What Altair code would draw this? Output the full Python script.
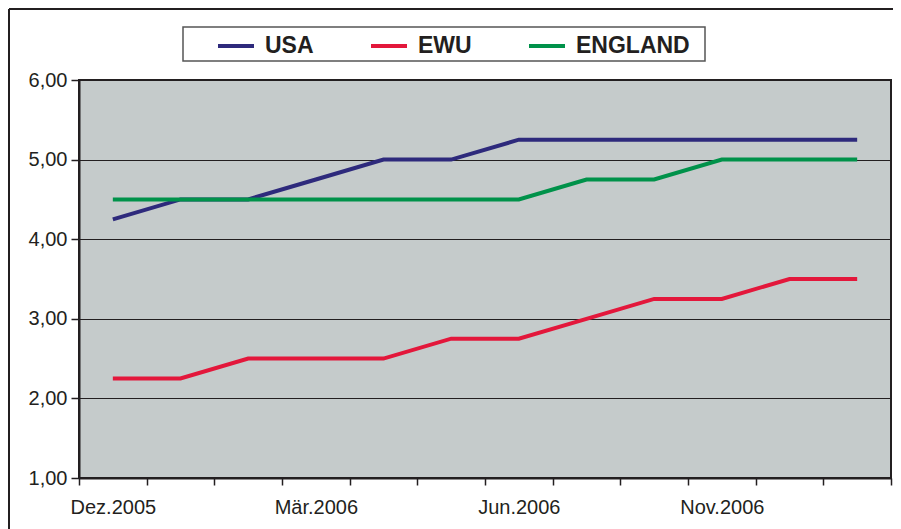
import altair as alt
import pandas as pd

# x positions (12 periods) and the labels shown under them
periods = list(range(12))
tick_labels = ["Dez.2005", "", "", "Mär.2006", "", "", "Jun.2006", "", "", "Nov.2006", "", ""]

series = ["USA", "EWU", "ENGLAND"]
colors = ["#2e2a7c", "#e3173b", "#00924a"]

usa = [4.25, 4.50, 4.50, 4.75, 5.00, 5.00, 5.25, 5.25, 5.25, 5.25, 5.25, 5.25]
ewu = [2.25, 2.25, 2.50, 2.50, 2.50, 2.75, 2.75, 3.00, 3.25, 3.25, 3.50, 3.50]
england = [4.50, 4.50, 4.50, 4.50, 4.50, 4.50, 4.50, 4.75, 4.75, 5.00, 5.00, 5.00]

y_ticks = [1, 2, 3, 4, 5, 6]

rows = []
for name, vals in zip(series, [usa, ewu, england]):
    for t, v in zip(periods, vals):
        rows.append({"t": t, "Serie": name, "Wert": v})
df = pd.DataFrame(rows)

FONT = "Liberation Sans"
TXT = "#231f20"
label_js = "[" + ",".join("'" + s + "'" for s in tick_labels) + "]"

lines = alt.Chart(df).mark_line(strokeWidth=4, clip=False).encode(
    x=alt.X(
        "t:O",
        scale=alt.Scale(type="band", paddingInner=0, paddingOuter=0),
        axis=alt.Axis(
            title=None,
            labelAngle=0,
            tickBand="extent",
            tickSize=7,
            tickWidth=1.5,
            tickColor=TXT,
            domainColor=TXT,
            domainWidth=2,
            labelFontSize=20,
            labelFont=FONT,
            labelColor=TXT,
            labelPadding=12,
            labelExpr=label_js + "[datum.value]",
            grid=False,
        ),
    ),
    y=alt.Y(
        "Wert:Q",
        scale=alt.Scale(domain=[1, 6], nice=False, zero=False),
        axis=alt.Axis(
            title=None,
            values=y_ticks,
            tickSize=8,
            tickWidth=1.5,
            tickColor=TXT,
            domainColor=TXT,
            domainWidth=2,
            labelFontSize=20,
            labelFont=FONT,
            labelColor=TXT,
            labelPadding=4,
            labelExpr="replace(format(datum.value, '.2f'), '.', ',')",
            grid=True,
            gridColor=TXT,
            gridWidth=1.2,
            gridOpacity=1,
        ),
    ),
    color=alt.Color(
        "Serie:N",
        sort=series,
        scale=alt.Scale(domain=series, range=colors),
        legend=alt.Legend(
            title=None,
            orient="none",
            direction="horizontal",
            legendX=137,
            legendY=-54,
            symbolType="stroke",
            symbolSize=1296,
            symbolStrokeWidth=4,
            labelFont=FONT,
            labelFontSize=23,
            labelFontWeight="bold",
            labelColor=TXT,
            labelOffset=9,
            columnPadding=49,
            padding=0,
            labelLimit=300,
        ),
    ),
    order=alt.Order("t:O"),
)

one = pd.DataFrame({"a": [0]})

frame_top = alt.Chart(one).mark_rule(stroke=TXT, strokeWidth=2, clip=False).encode(
    x=alt.value(-70), x2=alt.value(1000), y=alt.value(-71)
)
frame_left = alt.Chart(one).mark_rule(stroke=TXT, strokeWidth=2, clip=False).encode(
    x=alt.value(-70), y=alt.value(-71), y2=alt.value(700)
)
legend_box = alt.Chart(one).mark_rect(fill="white", stroke="#555555", strokeWidth=1.5, clip=False).encode(
    x=alt.value(104), x2=alt.value(626), y=alt.value(-53), y2=alt.value(-19)
)

chart = alt.layer(frame_top, frame_left, legend_box, lines).properties(
    width=812,
    height=398,
    padding={"left": 71, "top": 72, "right": 2, "bottom": 51},
    autosize=alt.AutoSizeParams(type="none"),
    background="white",
).configure_view(
    fill="#c5cbcb", stroke=TXT, strokeWidth=2
)

chart.save("out.html", embed_options={"renderer": "svg", "actions": False})
